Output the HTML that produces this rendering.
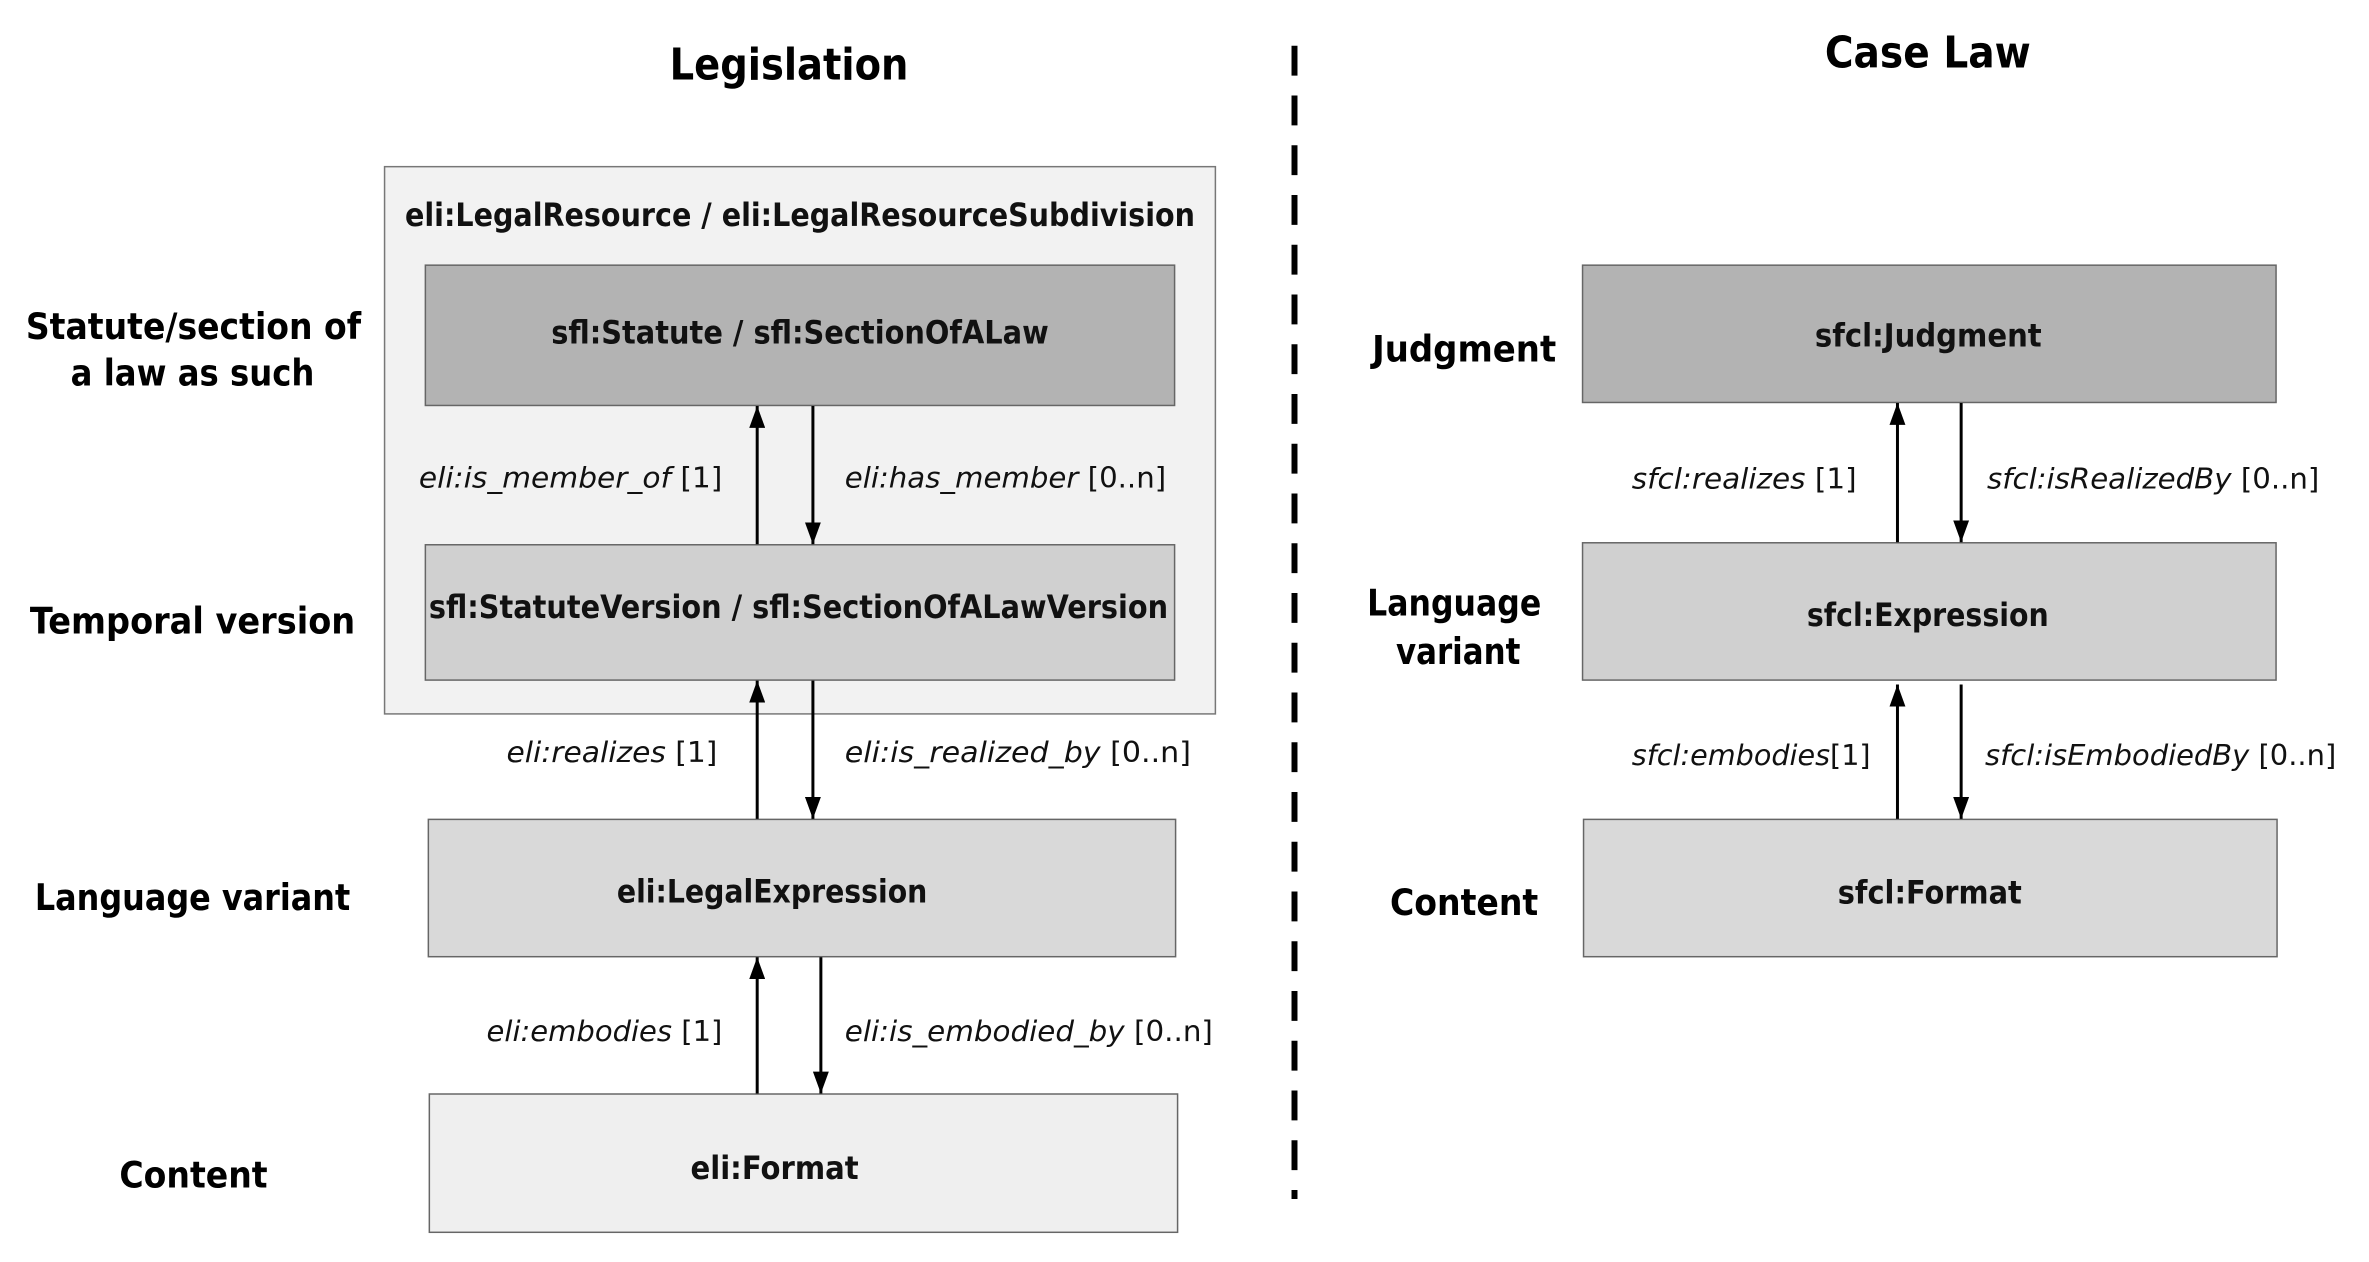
<!DOCTYPE html>
<html><head><meta charset="utf-8"><style>html,body{margin:0;padding:0;background:#fff}svg{display:block}</style></head>
<body>
<svg width="2369" height="1262" viewBox="0 0 2369 1262" xmlns="http://www.w3.org/2000/svg" font-family="'DejaVu Sans','Liberation Sans',sans-serif">
<defs>
<marker id="ah" markerWidth="22" markerHeight="16" refX="22" refY="8" orient="auto" markerUnits="userSpaceOnUse" viewBox="0 0 22 16">
<path d="M0,0 L22,8 L0,16 Z" fill="#000"/></marker>
</defs>
<g transform="scale(0.995)">
<g font-weight="bold" fill="#000">
<text x="673" y="80" font-size="44" textLength="240" lengthAdjust="spacingAndGlyphs">Legislation</text>
<text x="1834" y="68" font-size="44" textLength="207" lengthAdjust="spacingAndGlyphs">Case Law</text>
</g>
<line x1="1301" y1="46" x2="1301" y2="1205" stroke="#000" stroke-width="6" stroke-dasharray="30 20"/>
<rect x="386.5" y="167.5" width="835" height="550" fill="#f2f2f2" stroke="#777" stroke-width="1.5"/>
<rect x="427.5" y="266.5" width="753" height="141" fill="#b3b3b3" stroke="#666" stroke-width="1.5"/>
<rect x="427.5" y="547.5" width="753" height="136" fill="#d0d0d0" stroke="#666" stroke-width="1.5"/>
<rect x="430.5" y="823.5" width="751" height="138" fill="#d9d9d9" stroke="#666" stroke-width="1.5"/>
<rect x="431.5" y="1099.5" width="752" height="139" fill="#efefef" stroke="#666" stroke-width="1.5"/>
<rect x="1590.5" y="266.5" width="697" height="138" fill="#b3b3b3" stroke="#666" stroke-width="1.5"/>
<rect x="1590.5" y="545.5" width="697" height="138" fill="#d0d0d0" stroke="#666" stroke-width="1.5"/>
<rect x="1591.5" y="823.5" width="697" height="138" fill="#d9d9d9" stroke="#666" stroke-width="1.5"/>
<g font-size="32" font-weight="bold" fill="#111" dominant-baseline="central">
<text x="407" y="216" textLength="794" lengthAdjust="spacingAndGlyphs">eli:LegalResource / eli:LegalResourceSubdivision</text>
<text x="554" y="334" textLength="500" lengthAdjust="spacingAndGlyphs">sfl:Statute / sfl:SectionOfALaw</text>
<text x="431" y="610" textLength="743" lengthAdjust="spacingAndGlyphs">sfl:StatuteVersion / sfl:SectionOfALawVersion</text>
<text x="620" y="896" textLength="312" lengthAdjust="spacingAndGlyphs">eli:LegalExpression</text>
<text x="694" y="1174" textLength="169" lengthAdjust="spacingAndGlyphs">eli:Format</text>
<text x="1824" y="337" textLength="228" lengthAdjust="spacingAndGlyphs">sfcl:Judgment</text>
<text x="1816" y="618" textLength="243" lengthAdjust="spacingAndGlyphs">sfcl:Expression</text>
<text x="1847" y="897" textLength="185" lengthAdjust="spacingAndGlyphs">sfcl:Format</text>
</g>
<g font-size="37" font-weight="bold" fill="#000" dominant-baseline="central">
<text x="26" y="328" textLength="337" lengthAdjust="spacingAndGlyphs">Statute/section of</text>
<text x="71" y="375" textLength="245" lengthAdjust="spacingAndGlyphs">a law as such</text>
<text x="30" y="624" textLength="327" lengthAdjust="spacingAndGlyphs">Temporal version</text>
<text x="35" y="902" textLength="317" lengthAdjust="spacingAndGlyphs">Language variant</text>
<text x="120" y="1181" textLength="149" lengthAdjust="spacingAndGlyphs">Content</text>
<text x="1379" y="351" textLength="185" lengthAdjust="spacingAndGlyphs">Judgment</text>
<text x="1374" y="606" textLength="175" lengthAdjust="spacingAndGlyphs">Language</text>
<text x="1403" y="655" textLength="125" lengthAdjust="spacingAndGlyphs">variant</text>
<text x="1397" y="907" textLength="149" lengthAdjust="spacingAndGlyphs">Content</text>
</g>
<g stroke="#000" stroke-width="3">
<line x1="761" y1="547" x2="761" y2="408" marker-end="url(#ah)"/>
<line x1="817" y1="408" x2="817" y2="547" marker-end="url(#ah)"/>
<line x1="761" y1="823" x2="761" y2="684" marker-end="url(#ah)"/>
<line x1="817" y1="684" x2="817" y2="823" marker-end="url(#ah)"/>
<line x1="761" y1="1099" x2="761" y2="962" marker-end="url(#ah)"/>
<line x1="825" y1="962" x2="825" y2="1099" marker-end="url(#ah)"/>
<line x1="1907" y1="545" x2="1907" y2="405" marker-end="url(#ah)"/>
<line x1="1971" y1="405" x2="1971" y2="545" marker-end="url(#ah)"/>
<line x1="1907" y1="823" x2="1907" y2="688" marker-end="url(#ah)"/>
<line x1="1971" y1="688" x2="1971" y2="823" marker-end="url(#ah)"/>
</g>
<g font-size="29" fill="#111" dominant-baseline="central">
<text x="421" y="480" textLength="305" lengthAdjust="spacingAndGlyphs"><tspan font-style="italic">eli:is_member_of</tspan> [1]</text>
<text x="849" y="480" textLength="323" lengthAdjust="spacingAndGlyphs"><tspan font-style="italic">eli:has_member</tspan> [0..n]</text>
<text x="509" y="756" textLength="212" lengthAdjust="spacingAndGlyphs"><tspan font-style="italic">eli:realizes</tspan> [1]</text>
<text x="849" y="756" textLength="348" lengthAdjust="spacingAndGlyphs"><tspan font-style="italic">eli:is_realized_by</tspan> [0..n]</text>
<text x="489" y="1036" textLength="237" lengthAdjust="spacingAndGlyphs"><tspan font-style="italic">eli:embodies</tspan> [1]</text>
<text x="849" y="1036" textLength="370" lengthAdjust="spacingAndGlyphs"><tspan font-style="italic">eli:is_embodied_by</tspan> [0..n]</text>
<text x="1640" y="481" textLength="226" lengthAdjust="spacingAndGlyphs"><tspan font-style="italic">sfcl:realizes</tspan> [1]</text>
<text x="1997" y="481" textLength="334" lengthAdjust="spacingAndGlyphs"><tspan font-style="italic">sfcl:isRealizedBy</tspan> [0..n]</text>
<text x="1640" y="759" textLength="240" lengthAdjust="spacingAndGlyphs"><tspan font-style="italic">sfcl:embodies</tspan>[1]</text>
<text x="1995" y="759" textLength="353" lengthAdjust="spacingAndGlyphs"><tspan font-style="italic">sfcl:isEmbodiedBy</tspan> [0..n]</text>
</g>
</g>
</svg>
</body></html>
